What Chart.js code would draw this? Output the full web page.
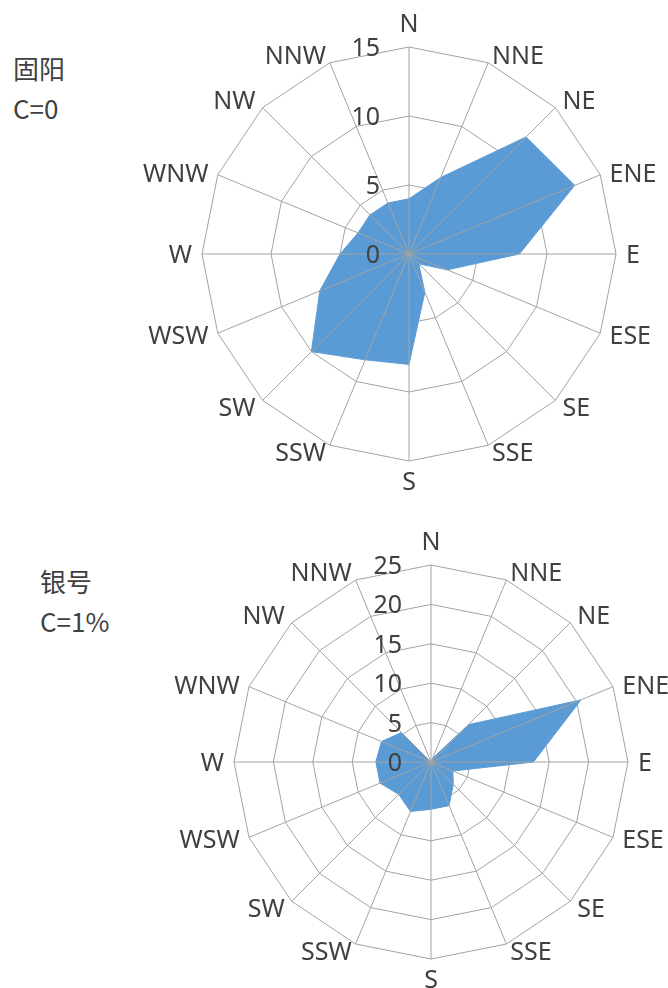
<!DOCTYPE html>
<html>
<head>
<meta charset="utf-8">
<script src="https://cdn.jsdelivr.net/npm/chart.js@4/dist/chart.umd.min.js"></script>
<style>
  body { margin: 0; background: #fff; width: 668px; height: 988px; overflow: hidden; position: relative; }
  canvas { position: absolute; left: 0; }
  #rose1 { top: 0; }
  #rose2 { top: 494px; }
  .title { position: absolute; font-family: "Noto Sans CJK SC", sans-serif; font-size: 26px; line-height: 40px; color: #404040; }
</style>
</head>
<body>
<div class="title" style="left:13px; top:48px">固阳<br>C=0</div>
<div class="title" style="left:40px; top:561px">银号<br>C=1%</div>
<canvas id="rose1" width="668" height="494"></canvas>
<canvas id="rose2" width="668" height="494"></canvas>
<script>
// 风向 (16 方位)
const directions = ['N', 'NNE', 'NE', 'ENE', 'E', 'ESE', 'SE', 'SSE', 'S', 'SSW', 'SW', 'WSW', 'W', 'WNW', 'NW', 'NNW'];
// 风向频率 %
const guyangFreq = [4, 6, 12, 13, 8, 3, 1, 3, 8, 8.3, 10, 7, 5, 4, 4, 4];
const yinhaoFreq = [0, 0.5, 6.7, 20.6, 13, 3, 4, 6, 6, 6.8, 5.8, 7, 7, 6.8, 5.3, 0];
const guyangTicks = [0, 5, 10, 15];
const yinhaoTicks = [0, 5, 10, 15, 20, 25];

const fillColor = '#5B9BD5';
const gridColor = '#a3a3a3';
const textColor = '#404040';
const fontSize = 25;

// 辐射线画在填充之上, 再写刻度和方位文字
const roseOverlay = {
    id: 'roseOverlay',
    afterDatasetsDraw(chart) {
        const scale = chart.scales.r;
        const ctx = chart.ctx;
        const cx = scale.xCenter, cy = scale.yCenter, R = scale.drawingArea;
        ctx.save();
        ctx.strokeStyle = gridColor;
        ctx.lineWidth = 1;
        chart.data.labels.forEach((_, i) => {
            const p = scale.getPointPosition(i, R);
            ctx.beginPath();
            ctx.moveTo(cx, cy);
            ctx.lineTo(p.x, p.y);
            ctx.stroke();
        });

        ctx.fillStyle = textColor;
        ctx.font = fontSize + 'px "Noto Sans"';
        ctx.textBaseline = 'alphabetic';
        const capH = fontSize * 0.714;

        // 刻度值, 在北向轴线左侧
        ctx.textAlign = 'right';
        scale.ticks.forEach(t => {
            const y = cy - scale.getDistanceFromCenterForValue(t.value);
            ctx.fillText(t.label, cx - 29, y + capH / 2);
        });

        // 方位标签
        chart.data.labels.forEach((lab, i) => {
            const v = scale.getPointPosition(i, R);
            const a = scale.getIndexAngle(i);
            const s = Math.sin(a), c = Math.cos(a);
            let align = 'center';
            if (Math.abs(s) > 0.01) align = s > 0 ? 'left' : 'right';
            let base;
            if (c > 0.99) base = v.y - 15;
            else if (c < -0.99) base = v.y + 11 + capH;
            else if (c > 0.5) base = v.y + 1;
            else if (c < -0.5) base = v.y - 2 + capH;
            else base = v.y - 5 * c + capH / 2;
            ctx.textAlign = align;
            ctx.fillText(lab, v.x + 10 * s, base);
        });
        ctx.restore();
    }
};

function makeRose(id, values, ticks, cx, cy, R) {
    const cv = document.getElementById(id);
    return new Chart(cv.getContext('2d'), {
        type: 'radar',
        data: {
            labels: directions,
            datasets: [{
                data: values,
                backgroundColor: fillColor,
                borderColor: fillColor,
                borderWidth: 1,
                pointRadius: 0,
                fill: true
            }]
        },
        options: {
            responsive: false,
            animation: false,
            layout: {
                padding: { left: cx - R, right: cv.width - cx - R, top: cy - R, bottom: cv.height - cy - R }
            },
            plugins: { legend: { display: false }, tooltip: { enabled: false } },
            scales: {
                r: {
                    min: ticks[0],
                    max: ticks[ticks.length - 1],
                    ticks: { display: false, stepSize: ticks[1] - ticks[0] },
                    grid: { color: gridColor, lineWidth: 1, circular: false },
                    angleLines: { display: false },
                    pointLabels: { display: false }
                }
            }
        },
        plugins: [roseOverlay]
    });
}

makeRose('rose1', guyangFreq, guyangTicks, 409, 254, 207);
makeRose('rose2', yinhaoFreq, yinhaoTicks, 431, 268, 197);
</script>
</body>
</html>
